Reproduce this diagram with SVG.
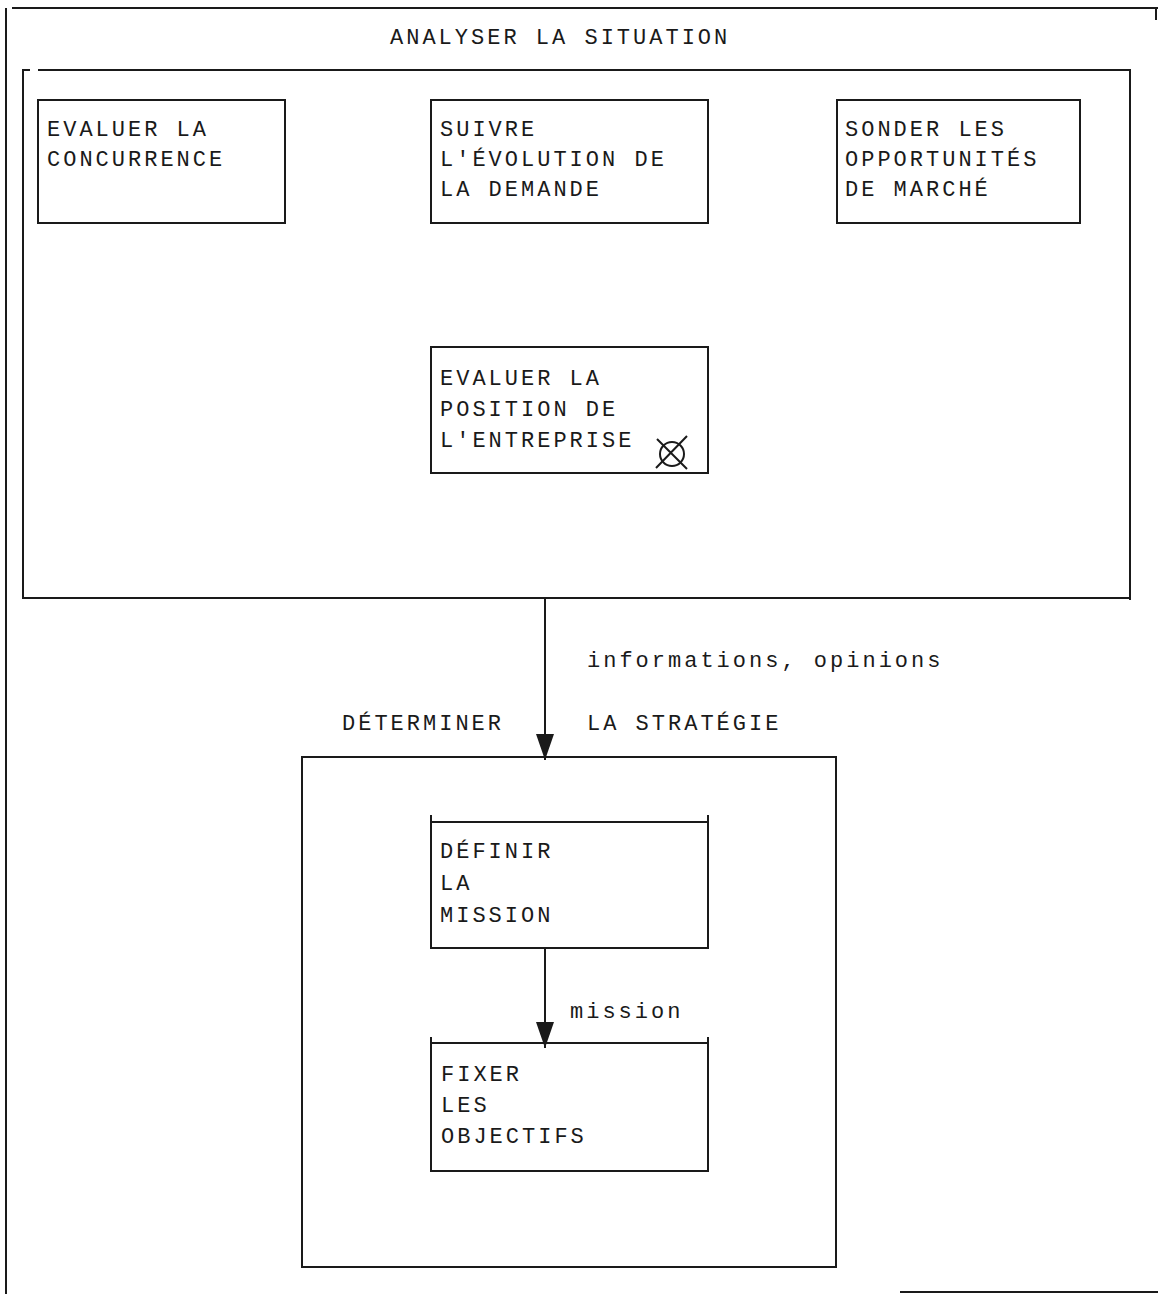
<svg xmlns="http://www.w3.org/2000/svg" width="1158" height="1294" viewBox="0 0 1158 1294">
<defs>
<style>
.b{fill:none;stroke:#1a1a1a;stroke-width:2}
.t{font-family:"Liberation Mono","DejaVu Sans Mono",monospace;font-size:22px;letter-spacing:3px;fill:#1a1a1a}
.c{stroke:#1a1a1a;stroke-width:2;fill:none}
</style>
<marker id="ah" markerWidth="16" markerHeight="26" refX="8" refY="24" orient="auto" markerUnits="userSpaceOnUse" viewBox="0 0 16 26">
<path d="M0,0 L16,0 L8,26 Z" fill="#1a1a1a" transform="rotate(-90 8 13)"/>
</marker>
<marker id="ahd" markerWidth="18" markerHeight="26" refX="9" refY="26" orient="0" markerUnits="userSpaceOnUse">
<path d="M0,0 L18,0 L9,26 Z" fill="#1a1a1a"/>
</marker>
</defs>
<rect width="1158" height="1294" fill="#fff"/>
<g id="outer">
<path class="b" d="M6,1294 V8 M12,8 H1158 M1156,8 V20 M900,1292 H1158"/>
<text class="t" x="390" y="44">ANALYSER LA SITUATION</text>
</g>
<g id="analyser">
<path class="b" d="M23,598 V70 H30 M38,70 H1130 V600 M22,598 H1130"/>
</g>
<g id="n1">
<rect class="b" x="38" y="100" width="247" height="123"/>
<text class="t" x="47" y="136">EVALUER LA</text>
<text class="t" x="47" y="166">CONCURRENCE</text>
</g>
<g id="n2">
<rect class="b" x="431" y="100" width="277" height="123"/>
<text class="t" x="440" y="136">SUIVRE</text>
<text class="t" x="440" y="166">L'ÉVOLUTION DE</text>
<text class="t" x="440" y="196">LA DEMANDE</text>
</g>
<g id="n3">
<rect class="b" x="837" y="100" width="243" height="123"/>
<text class="t" x="845" y="136">SONDER LES</text>
<text class="t" x="845" y="166">OPPORTUNITÉS</text>
<text class="t" x="845" y="196">DE MARCHÉ</text>
</g>
<g id="n4">
<rect class="b" x="431" y="347" width="277" height="126"/>
<text class="t" x="440" y="385">EVALUER LA</text>
<text class="t" x="440" y="416">POSITION DE</text>
<text class="t" x="440" y="447">L'ENTREPRISE</text>
<circle class="c" cx="672" cy="454" r="12"/>
<path class="c" d="M657,439 L687,469 M687,436 L656,468"/>
</g>
<g id="strategie">
<rect class="b" x="302" y="757" width="534" height="510"/>
<text class="t" x="342" y="730">DÉTERMINER</text>
<text class="t" x="587" y="730">LA STRATÉGIE</text>
</g>
<g id="n5">
<rect class="b" x="431" y="822" width="277" height="126"/>
<path class="b" d="M431,815 V822 M708,815 V822"/>
<text class="t" x="440" y="858">DÉFINIR</text>
<text class="t" x="440" y="890">LA</text>
<text class="t" x="440" y="922">MISSION</text>
</g>
<g id="n6">
<rect class="b" x="431" y="1043" width="277" height="128"/>
<path class="b" d="M431,1037 V1043 M708,1037 V1043"/>
<text class="t" x="441" y="1081">FIXER</text>
<text class="t" x="441" y="1112">LES</text>
<text class="t" x="441" y="1143">OBJECTIFS</text>
</g>
<g id="connectors">
<line class="c" x1="545" y1="598" x2="545" y2="760" marker-end="url(#ahd)"/>
<text class="t" x="587" y="667">informations, opinions</text>
<line class="c" x1="545" y1="948" x2="545" y2="1048" marker-end="url(#ahd)"/>
<text class="t" x="570" y="1018">mission</text>
</g>
</svg>
